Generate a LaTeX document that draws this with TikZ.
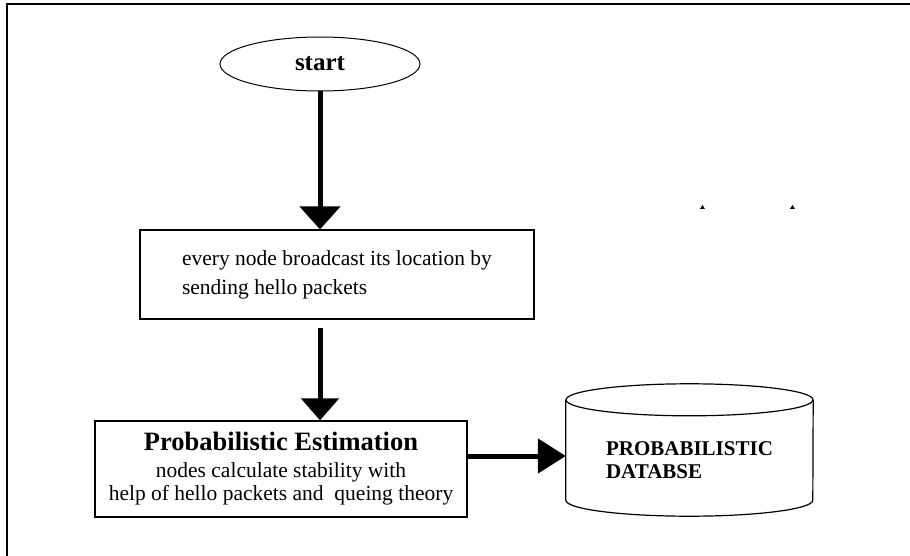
\documentclass[tikz,border=0pt]{standalone}
\usepackage{fontspec}
\setmainfont{Liberation Serif}
\usetikzlibrary{shapes.geometric}
\usetikzlibrary{arrows.meta}

\begin{document}
\begin{tikzpicture}[x=1pt, y=-1pt,
        box/.style={draw, rectangle, line width=1.2pt, inner sep=0pt},
        flow/.style={line width=5pt, -{Triangle[length=23pt,width=40pt]}},
        body/.style={font=\fontsize{21.5}{29}\selectfont}]
    \useasboundingbox (0,0) rectangle (910,556);
    % page frame, only top and left show
    \draw[line width=2pt] (910,4) -- (7,4) -- (7,556);

    \node[draw, ellipse, line width=1pt, minimum width=200pt, minimum height=54pt, font=\fontsize{25}{28}\selectfont\bfseries] (start) at (320,64) {start};
    \node[box, minimum width=394pt, minimum height=89pt, align=left, body] (bcast) at (337,274.5) {every node broadcast its location by\\sending hello packets};
    \node[box, minimum width=372pt, minimum height=96pt, align=center, font=\fontsize{21.5}{23}\selectfont] (estim) at (281,469) {{\fontsize{26.5}{28}\selectfont\bfseries Probabilistic Estimation}\\[4pt]nodes calculate stability with\hspace*{40pt}\\help of hello packets and\ \ queing theory};
    \node[rectangle, minimum width=247pt, minimum height=100pt, align=left, font=\fontsize{21}{23}\selectfont\bfseries] (db) at (689.5,450) {\rule{0pt}{35pt}PROBABILISTIC\\DATABSE};

    % database drum
    \draw[line width=1.2pt] (db.north) ellipse [x radius=123.5pt, y radius=16pt];
    \draw[line width=1.2pt] (db.north west) -- (db.south west) arc [start angle=180, end angle=360, x radius=123.5pt, y radius=16pt] -- (db.north east);

    \draw[flow] (start.south) -- (start.south |- bcast.north);
    \draw[flow, -{Triangle[length=22pt,width=37pt]}, shorten <=8pt] (start.center |- bcast.south) -- (start.center |- estim.north);
    \draw[flow, -{Triangle[length=28pt,width=34pt]}] ([yshift=13pt]estim.east) -- ([yshift=13pt]estim.east -| db.west);

    % two stray marks
    \fill (700,209) -- (702.5,205) -- (705,209) -- cycle;
    \fill (790,209) -- (792.5,205) -- (795,209) -- cycle;
\end{tikzpicture}
\end{document}
